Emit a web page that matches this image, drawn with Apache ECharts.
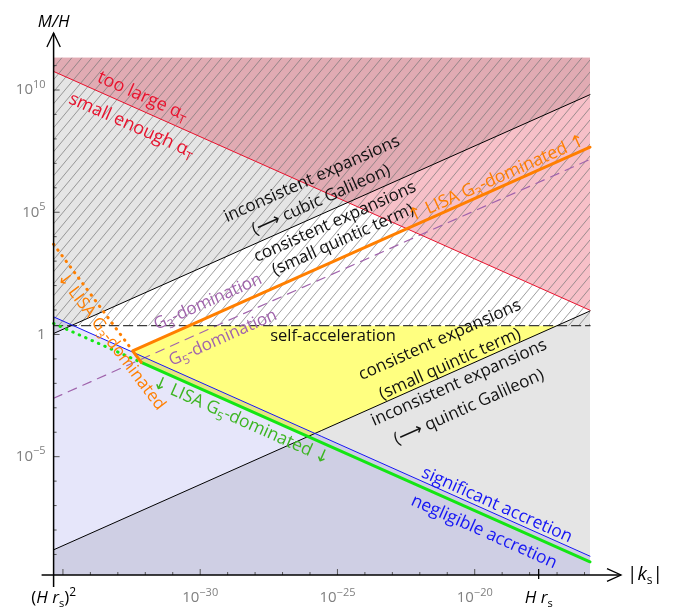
<!DOCTYPE html>
<html>
<head>
<meta charset="utf-8">
<script src="https://cdn.jsdelivr.net/npm/echarts@6/dist/echarts.min.js"></script>
<style>
  html, body { margin: 0; padding: 0; background: #fff; }
  #chart { width: 673px; height: 611px; }
</style>
</head>
<body>
<div id="chart"></div>
<script>
// ---- axis extents, all in log10 units ----
const logHrs = -17.67;                 // log10(H r_s)
const xRange = [2 * logHrs, -15.8];    // log10 |k_s|, starting at (H r_s)^2
const yRange = [-9.84, 11.33];         // log10 (M/H)

// ---- boundary lines, endpoints as [log10|k_s|, log10(M/H)] ----
const alphaTLine    = [[-35.34, 10.76], [-15.8, 0.99]];   // tensor speed bound
const cubicLine     = [[-35.34, 0.04],  [-15.8, 9.81]];   // cubic expansion consistency
const quinticLine   = [[-35.34, -8.81], [-15.8, 0.96]];   // quintic expansion consistency
const accretionLine = [[-35.34, 0.72],  [-15.8, -9.07]];  // accretion
const lisaG5Line    = [[-35.34, 0.45],  [-15.8, -9.30]];  // LISA, G5 dominated
const lisaG3Curve   = [[-35.34, 3.69], [-32.46, -0.67], [-15.8, 7.66]]; // LISA, G3 dominated
const g3g5Line      = [[-35.34, -2.61], [-15.8, 7.16]];   // G3 / G5 domination
const selfAccLevel  = 0.36;                               // self-acceleration

// ---- tick labels ----
const xTickExps = [-30, -25, -20];
const yTickExps = [10, 5, 0, -5];

const FONT = '"Open Sans", "DejaVu Sans", sans-serif';
const RED = '#e8132e', ORANGE = '#ff7f00', PURPLE = '#a064ac', GREEN_T = '#3cb521',
      GREEN_L = '#14e614', BLUE = '#1616f5', INK = '#111111';

// ---- geometry helpers (straight lines in log-log space) ----
function lineOf(p, q) {
  const m = (q[1] - p[1]) / (q[0] - p[0]);
  return { m: m, k: p[1] - m * p[0] };
}
function meet(a, b) {
  const x = (b.k - a.k) / (a.m - b.m);
  return [x, a.m * x + a.k];
}
// keep the part of a convex polygon above (or below) a line
function cut(poly, l, above) {
  const f = p => (p[1] - (l.m * p[0] + l.k)) * (above ? 1 : -1);
  const out = [];
  for (let i = 0; i < poly.length; i++) {
    const a = poly[i], b = poly[(i + 1) % poly.length];
    const fa = f(a), fb = f(b);
    if (fa >= 0) out.push(a);
    if ((fa >= 0) !== (fb >= 0)) {
      const t = fa / (fa - fb);
      out.push([a[0] + t * (b[0] - a[0]), a[1] + t * (b[1] - a[1])]);
    }
  }
  return out;
}
const frame = [[xRange[0], yRange[0]], [xRange[1], yRange[0]], [xRange[1], yRange[1]], [xRange[0], yRange[1]]];
function region(conds) {
  let p = frame;
  conds.forEach(c => { p = cut(p, c[0], c[1]); });
  return p;
}

const RL = lineOf(alphaTLine[0], alphaTLine[1]);
const UL = lineOf(cubicLine[0], cubicLine[1]);
const LL = lineOf(quinticLine[0], quinticLine[1]);
const BL = lineOf(accretionLine[0], accretionLine[1]);
const GL = lineOf(lisaG5Line[0], lisaG5Line[1]);
const O1 = lineOf(lisaG3Curve[0], lisaG3Curve[1]);
const O2 = lineOf(lisaG3Curve[1], lisaG3Curve[2]);
const DL = { m: 0, k: selfAccLevel };

const g3g5Meet = meet(GL, O1);   // where the G3 and G5 LISA curves touch

const quinticOK = [[DL, false], [LL, true], [GL, true], [O2, false], [O1, true]];
const fills = [
  { poly: region([[UL, true]]), color: '#e5e5e5' },
  { poly: region([[LL, false]]), color: '#e5e5e5' },
  { poly: region(quinticOK), color: '#ffff80' },
  { poly: region([[RL, true]]), color: '#f7c0c8' },
  { poly: region([[RL, true], [UL, true]]), color: '#e1abb3' },
  { poly: region([[BL, false]]), color: '#e6e6fa' },
  { poly: region([[BL, false], [LL, false]]), color: '#cfcfe4' },
  { poly: region(quinticOK.concat([[BL, false]])), color: '#e6e680' },
  { poly: region([[BL, false], [UL, true]]), color: '#cfcfe4' }
];
const hatchPoly = region([[DL, true]]);

// diagonal hatch tile
const tile = document.createElement('canvas');
tile.width = 10; tile.height = 12;
(function () {
  const g = tile.getContext('2d');
  g.strokeStyle = 'rgba(120,120,120,0.8)';
  g.lineWidth = 0.9;
  g.beginPath();
  [[-10, 0], [0, 0], [10, 0]].forEach(o => { g.moveTo(o[0], 12); g.lineTo(o[0] + 10, 0); });
  g.stroke();
})();

// ---- text annotations ----
const notes = [
  { at: [-32.10, 9.74], rot: -24, color: RED, size: 18, text: '{n|too large α}{s|T}' },
  { at: [-32.50, 8.55], rot: -24, color: RED, size: 18, text: '{n|small enough α}{s|T}' },
  { at: [-25.93, 6.36], rot: 24, color: INK, size: 17, text: '{n|inconsistent expansions}' },
  { at: [-25.60, 5.50], rot: 24, color: INK, size: 17, text: '{n|(⟶ cubic Galileon)}' },
  { at: [-25.09, 4.60], rot: 24, color: INK, size: 17, text: '{n|consistent expansions}' },
  { at: [-24.80, 3.87], rot: 24, color: INK, size: 17, text: '{n|(small quintic term)}' },
  { at: [-19.20, 6.38], rot: 24, color: ORANGE, size: 17.5, text: '{n|↑ LISA G}{s|3}{n|-dominated ↑}' },
  { at: [-29.72, 1.33], rot: 24, color: PURPLE, size: 17, text: '{n|G}{s|3}{n|-domination}' },
  { at: [-29.17, -0.14], rot: 24, color: PURPLE, size: 17, text: '{n|G}{s|5}{n|-domination}' },
  { at: [-25.16, -0.06], rot: 0, color: INK, size: 16.5, text: '{n|self-acceleration}' },
  { at: [-21.27, -0.23], rot: 24, color: INK, size: 17, text: '{n|consistent expansions}' },
  { at: [-20.90, -1.21], rot: 24, color: INK, size: 17, text: '{n|(small quintic term)}' },
  { at: [-20.57, -1.98], rot: 24, color: INK, size: 17, text: '{n|inconsistent expansions}' },
  { at: [-20.21, -2.97], rot: 24, color: INK, size: 17, text: '{n|(⟶ quintic Galileon)}' },
  { at: [-33.25, -0.27], rot: -53, color: ORANGE, size: 17, text: '{n|↓ LISA G}{s|3}{n|-dominated}' },
  { at: [-28.51, -3.52], rot: -24, color: GREEN_T, size: 17.5, text: '{n|↓ LISA G}{s|5}{n|-dominated ↓}' },
  { at: [-19.19, -6.98], rot: -24, color: BLUE, size: 17.5, text: '{n|significant accretion}' },
  { at: [-19.66, -8.08], rot: -24, color: BLUE, size: 17.5, text: '{n|negligible accretion}' }
];

function noteRich(c, s) {
  return {
    n: { fill: c, fontSize: s, fontFamily: FONT, lineHeight: s + 6, verticalAlign: 'middle' },
    s: { fill: c, fontSize: Math.round(s * 0.68), fontFamily: FONT, lineHeight: Math.round(s * 0.7), verticalAlign: 'bottom' }
  };
}

function lineSeries(points, color, width, type, z) {
  return {
    type: 'line', data: points, symbol: 'none', showSymbol: false, silent: true, z: z,
    lineStyle: { color: color, width: width, type: type || 'solid', cap: 'round', join: 'round' },
    clip: true
  };
}

const tickRich = {
  b: { fontSize: 15, color: '#808080', fontFamily: FONT, lineHeight: 22, verticalAlign: 'middle' },
  e: { fontSize: 11, color: '#808080', fontFamily: FONT, lineHeight: 12, verticalAlign: 'top' },
  h: { fontSize: 17, color: '#000', fontFamily: FONT, fontStyle: 'italic', lineHeight: 22, verticalAlign: 'middle' },
  p: { fontSize: 17, color: '#000', fontFamily: FONT, lineHeight: 22, verticalAlign: 'middle' },
  s: { fontSize: 11, color: '#000', fontFamily: FONT, lineHeight: 12, verticalAlign: 'bottom' },
  u: { fontSize: 12, color: '#000', fontFamily: FONT, lineHeight: 16, verticalAlign: 'top' }
};
function fmtExp(v) {
  if (Math.abs(v) < 1e-9) return '{b|1}';
  return '{b|10}{e|' + String(v).replace('-', '−') + '}';
}

const chart = echarts.init(document.getElementById('chart'));
chart.setOption({
  animation: false,
  backgroundColor: '#ffffff',
  grid: { left: 53.6, right: 83, top: 57.5, bottom: 36, containLabel: false },
  xAxis: {
    type: 'value', min: xRange[0], max: xRange[1],
    axisLine: { show: false, onZero: false }, axisTick: { show: false }, splitLine: { show: false },
    name: '{t||}{k|k}{s|s}{t||}', nameLocation: 'end', nameGap: 37,
    nameTextStyle: {
      rich: {
        t: { fontSize: 19, color: '#000', fontFamily: FONT, lineHeight: 24, verticalAlign: 'middle' },
        k: { fontSize: 19, color: '#000', fontFamily: FONT, fontStyle: 'italic', lineHeight: 24, verticalAlign: 'middle' },
        s: { fontSize: 12, color: '#000', fontFamily: FONT, lineHeight: 13, verticalAlign: 'bottom' }
      }
    },
    axisLabel: {
      customValues: [2 * logHrs].concat(xTickExps, [logHrs]),
      margin: 12, rich: tickRich,
      formatter: function (v) {
        if (Math.abs(v - 2 * logHrs) < 1e-6) return '{p|(}{h|H r}{s|s}{p|)}{u|2}';
        if (Math.abs(v - logHrs) < 1e-6) return '{h|H r}{s|s}';
        return fmtExp(v);
      }
    }
  },
  yAxis: {
    type: 'value', min: yRange[0], max: yRange[1],
    axisLine: { show: false, onZero: false }, axisTick: { show: false }, splitLine: { show: false },
    name: 'M/H', nameLocation: 'end', nameGap: 27,
    nameTextStyle: { fontSize: 17, fontStyle: 'italic', color: '#000', fontFamily: FONT, align: 'center' },
    axisLabel: { customValues: yTickExps, margin: 8, rich: tickRich, formatter: fmtExp }
  },
  series: [
    {
      type: 'custom', silent: true, z: 1, clip: true,
      data: fills.map((f, i) => [i]),
      renderItem: function (params, api) {
        const f = fills[params.dataIndex];
        if (f.poly.length < 3) return null;
        return { type: 'polygon', shape: { points: f.poly.map(p => api.coord(p)) }, style: { fill: f.color, stroke: null } };
      }
    },
    {
      type: 'custom', silent: true, z: 2, clip: true,
      data: [[0]],
      renderItem: function (params, api) {
        return {
          type: 'polygon', shape: { points: hatchPoly.map(p => api.coord(p)) },
          style: { fill: { type: 'pattern', image: tile, repeat: 'repeat' }, stroke: null }
        };
      }
    },
    lineSeries(g3g5Line, PURPLE, 1.2, [9, 7], 3),
    lineSeries([[xRange[0], selfAccLevel], [xRange[1], selfAccLevel]], '#3a3a3a', 1.4, [9, 5], 3),
    lineSeries(alphaTLine, RED, 1, 'solid', 3),
    lineSeries(cubicLine, '#000', 1, 'solid', 3),
    lineSeries(quinticLine, '#000', 1, 'solid', 3),
    lineSeries(accretionLine, BLUE, 1, 'solid', 3),
    lineSeries([lisaG5Line[0], g3g5Meet], GREEN_L, 3, [0.5, 6.5], 4),
    lineSeries([g3g5Meet, lisaG5Line[1]], GREEN_L, 3, 'solid', 4),
    lineSeries([lisaG3Curve[0], lisaG3Curve[1]], ORANGE, 3, [0.5, 6.5], 4),
    lineSeries([g3g5Meet, lisaG3Curve[1], lisaG3Curve[2]], ORANGE, 3, 'solid', 4),
    {
      // axes with arrow heads and ticks
      type: 'custom', silent: true, z: 6, clip: false,
      data: [[0]],
      renderItem: function (params, api) {
        const cs = params.coordSys;
        const x0 = cs.x, yb = cs.y + cs.height, yt = cs.y, xr = cs.x + cs.width;
        const kids = [];
        const seg = (a, b, c, d, w, col) => kids.push({ type: 'line', shape: { x1: a, y1: b, x2: c, y2: d }, style: { stroke: col, lineWidth: w } });
        for (let i = Math.ceil(yRange[0]); i <= Math.floor(yRange[1]); i++) {
          const p = api.coord([xRange[0], i]);
          seg(p[0], p[1], p[0] + (i % 5 === 0 ? 6 : 3), p[1], 1, '#555');
        }
        for (let i = Math.ceil(xRange[0]); i <= Math.floor(xRange[1]); i++) {
          const p = api.coord([i, yRange[0]]);
          seg(p[0], p[1], p[0], p[1] - (i % 5 === 0 ? 6 : 3), 1, '#555');
        }
        const h = api.coord([logHrs, yRange[0]]);
        seg(h[0], h[1] - 6, h[0], h[1] + 4, 1.3, '#000');
        // axis lines
        const tipX = xr + 31, tipY = yt - 24.5;
        seg(x0 - 12, yb, tipX, yb, 1.5, '#000');
        seg(x0, yb + 12, x0, tipY, 1.5, '#000');
        kids.push({ type: 'polyline', shape: { points: [[tipX - 14, yb - 6.3], [tipX, yb], [tipX - 14, yb + 6.3]] }, style: { stroke: '#000', lineWidth: 1.3, fill: null } });
        kids.push({ type: 'polyline', shape: { points: [[x0 - 6.7, tipY + 14], [x0, tipY], [x0 + 6.7, tipY + 14]] }, style: { stroke: '#000', lineWidth: 1.3, fill: null } });
        return { type: 'group', children: kids };
      }
    },
    {
      type: 'custom', silent: true, z: 5, clip: false,
      data: notes.map((n, i) => [i]),
      renderItem: function (params, api) {
        const a = notes[params.dataIndex];
        const p = api.coord(a.at);
        return {
          type: 'text', x: p[0], y: p[1], rotation: a.rot * Math.PI / 180,
          style: {
            text: a.text, rich: noteRich(a.color, a.size), fill: a.color,
            fontSize: a.size, fontFamily: FONT, align: 'center', verticalAlign: 'middle'
          }
        };
      }
    }
  ]
});
</script>
</body>
</html>
